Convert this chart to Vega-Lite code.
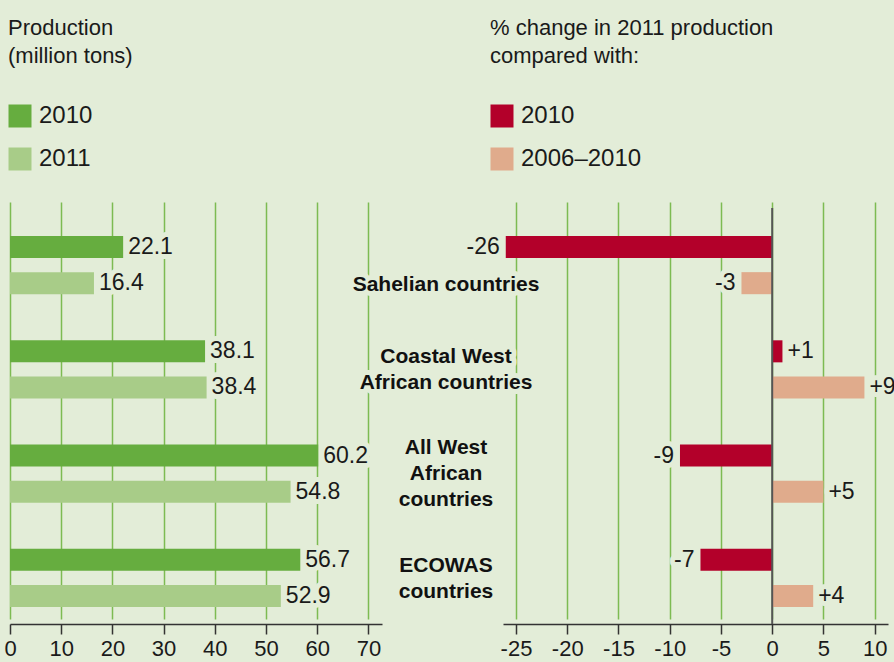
{
  "$schema": "https://vega.github.io/schema/vega-lite/v6.json",
  "background": "#e3edd8",
  "autosize": {"type": "none"},
  "padding": {"left": 10, "top": 208, "right": 884, "bottom": 38},
  "bounds": "flush",
  "spacing": 121,
  "datasets": {
    "production": [
      {"group": "Sahelian countries", "year": "2010", "value": 22.1},
      {"group": "Sahelian countries", "year": "2011", "value": 16.4},
      {"group": "Coastal West African countries", "year": "2010", "value": 38.1},
      {"group": "Coastal West African countries", "year": "2011", "value": 38.4},
      {"group": "All West African countries", "year": "2010", "value": 60.2},
      {"group": "All West African countries", "year": "2011", "value": 54.8},
      {"group": "ECOWAS countries", "year": "2010", "value": 56.7},
      {"group": "ECOWAS countries", "year": "2011", "value": 52.9}
    ],
    "change": [
      {"group": "Sahelian countries", "comparison": "2010", "value": -26},
      {"group": "Sahelian countries", "comparison": "2006–2010", "value": -3},
      {"group": "Coastal West African countries", "comparison": "2010", "value": 1},
      {"group": "Coastal West African countries", "comparison": "2006–2010", "value": 9},
      {"group": "All West African countries", "comparison": "2010", "value": -9},
      {"group": "All West African countries", "comparison": "2006–2010", "value": 5},
      {"group": "ECOWAS countries", "comparison": "2010", "value": -7},
      {"group": "ECOWAS countries", "comparison": "2006–2010", "value": 4}
    ],
    "labels": [
      {"group": "Sahelian countries", "label": "Sahelian countries", "lines": 1},
      {"group": "Coastal West African countries", "label": "Coastal West\nAfrican countries", "lines": 2},
      {"group": "All West African countries", "label": "All West\nAfrican\ncountries", "lines": 3},
      {"group": "ECOWAS countries", "label": "ECOWAS\ncountries", "lines": 2}
    ]
  },
  "hconcat": [
    {
      "width": 372,
      "height": 416,
      "data": {"name": "production"},
      "encoding": {
        "y": {"field": "group", "type": "nominal", "scale": {"domain": ["Sahelian countries", "Coastal West African countries", "All West African countries", "ECOWAS countries"], "range": [5, 422], "paddingInner": 0, "paddingOuter": 0}, "axis": null},
        "yOffset": {"field": "year", "type": "nominal", "scale": {"domain": ["2010", "2011"], "paddingInner": 0.389, "paddingOuter": 0.639}},
        "x": {"field": "value", "type": "quantitative", "scale": {"domain": [0, 72.66], "nice": false}, "axis": {"values": [0, 10, 20, 30, 40, 50, 60, 70], "grid": true, "title": null}}
      },
      "layer": [
        {
          "mark": {"type": "text", "align": "left", "baseline": "middle", "dx": 5, "fontSize": 23, "fill": "#e3edd8", "stroke": "#e3edd8", "strokeWidth": 10, "strokeJoin": "round"},
          "encoding": {"text": {"field": "value", "type": "quantitative", "format": ".1f"}}
        },
        {
          "mark": {"type": "bar"},
          "encoding": {
            "color": {
              "field": "year", "type": "nominal",
              "scale": {"domain": ["2010", "2011"], "range": ["#66ad3f", "#a8cc88"]},
              "legend": {"orient": "none", "legendX": -2, "legendY": -190, "title": ["Production", "(million tons)"]}
            }
          }
        },
        {
          "mark": {"type": "text", "align": "left", "baseline": "middle", "dx": 5, "fontSize": 23, "color": "#1a1a1a"},
          "encoding": {"text": {"field": "value", "type": "quantitative", "format": ".1f"}}
        }
      ]
    },
    {
      "width": 385,
      "height": 416,
      "layer": [
        {
          "data": {"name": "labels"},
          "transform": [{"filter": "datum.lines === 1"}],
          "encoding": {
            "y": {"field": "group", "type": "nominal", "scale": {"domain": ["Sahelian countries", "Coastal West African countries", "All West African countries", "ECOWAS countries"], "range": [5, 422], "paddingInner": 0, "paddingOuter": 0}, "axis": null},
            "x": {"datum": -31.83, "type": "quantitative", "scale": {"domain": [-26.27, 11.3], "nice": false}, "axis": {"values": [-25, -20, -15, -10, -5, 0, 5, 10], "grid": true, "title": null}},
            "text": {"field": "label"}
          },
          "layer": [
            {"mark": {"type": "text", "align": "center", "baseline": "middle", "dy": 20, "fontSize": 21, "fontWeight": "bold", "fill": "#e3edd8", "stroke": "#e3edd8", "strokeWidth": 10, "strokeJoin": "round"}},
            {"mark": {"type": "text", "align": "center", "baseline": "middle", "dy": 20, "fontSize": 21, "fontWeight": "bold", "color": "#111111"}}
          ]
        },
        {
          "data": {"name": "labels"},
          "transform": [{"filter": "datum.lines === 2"}],
          "encoding": {
            "y": {"field": "group", "type": "nominal"},
            "x": {"datum": -31.83, "type": "quantitative"},
            "text": {"field": "label"}
          },
          "layer": [
            {"mark": {"type": "text", "align": "center", "baseline": "middle", "dy": -12, "fontSize": 21, "fontWeight": "bold", "lineBreak": "\n", "lineHeight": 26, "fill": "#e3edd8", "stroke": "#e3edd8", "strokeWidth": 10, "strokeJoin": "round"}},
            {"mark": {"type": "text", "align": "center", "baseline": "middle", "dy": -12, "fontSize": 21, "fontWeight": "bold", "lineBreak": "\n", "lineHeight": 26, "color": "#111111"}}
          ]
        },
        {
          "data": {"name": "labels"},
          "transform": [{"filter": "datum.lines === 3"}],
          "encoding": {
            "y": {"field": "group", "type": "nominal"},
            "x": {"datum": -31.83, "type": "quantitative"},
            "text": {"field": "label"}
          },
          "layer": [
            {"mark": {"type": "text", "align": "center", "baseline": "middle", "dy": -26, "fontSize": 21, "fontWeight": "bold", "lineBreak": "\n", "lineHeight": 26, "fill": "#e3edd8", "stroke": "#e3edd8", "strokeWidth": 10, "strokeJoin": "round"}},
            {"mark": {"type": "text", "align": "center", "baseline": "middle", "dy": -26, "fontSize": 21, "fontWeight": "bold", "lineBreak": "\n", "lineHeight": 26, "color": "#111111"}}
          ]
        },
        {
          "data": {"name": "change"},
          "encoding": {
            "y": {"field": "group", "type": "nominal"},
            "yOffset": {"field": "comparison", "type": "nominal", "scale": {"domain": ["2010", "2006–2010"], "paddingInner": 0.389, "paddingOuter": 0.639}},
            "x": {"field": "value", "type": "quantitative"}
          },
          "layer": [
            {
              "transform": [{"filter": "datum.value >= 0"}],
              "mark": {"type": "text", "align": "left", "baseline": "middle", "dx": 5, "fontSize": 23, "fill": "#e3edd8", "stroke": "#e3edd8", "strokeWidth": 10, "strokeJoin": "round"},
              "encoding": {"text": {"field": "value", "type": "quantitative", "format": "+d"}}
            },
            {
              "transform": [{"filter": "datum.value < 0"}],
              "mark": {"type": "text", "align": "right", "baseline": "middle", "dx": -6, "fontSize": 23, "fill": "#e3edd8", "stroke": "#e3edd8", "strokeWidth": 10, "strokeJoin": "round"},
              "encoding": {"text": {"field": "value", "type": "quantitative", "format": "+d"}}
            },
            {
              "mark": {"type": "bar"},
              "encoding": {
                "color": {
                  "field": "comparison", "type": "nominal",
                  "scale": {"domain": ["2010", "2006–2010"], "range": ["#b3002a", "#e0ab8c"]},
                  "legend": {"orient": "none", "legendX": -13, "legendY": -190, "title": ["% change in 2011 production", "compared with:"]}
                }
              }
            },
            {
              "transform": [{"filter": "datum.value >= 0"}],
              "mark": {"type": "text", "align": "left", "baseline": "middle", "dx": 5, "fontSize": 23, "color": "#1a1a1a"},
              "encoding": {"text": {"field": "value", "type": "quantitative", "format": "+d"}}
            },
            {
              "transform": [{"filter": "datum.value < 0"}],
              "mark": {"type": "text", "align": "right", "baseline": "middle", "dx": -6, "fontSize": 23, "color": "#1a1a1a"},
              "encoding": {"text": {"field": "value", "type": "quantitative", "format": "+d"}}
            }
          ]
        },
        {
          "data": {"values": [{}]},
          "mark": {"type": "rule", "color": "#555555", "strokeWidth": 2},
          "encoding": {"x": {"datum": 0, "type": "quantitative"}}
        }
      ]
    }
  ],
  "resolve": {"scale": {"color": "independent", "yOffset": "independent", "x": "independent", "y": "independent"}, "legend": {"color": "independent"}},
  "config": {
    "view": {"stroke": null},
    "font": "Liberation Sans",
    "text": {"font": "Liberation Sans"},
    "scale": {"bandWithNestedOffsetPaddingInner": 0, "bandWithNestedOffsetPaddingOuter": 0, "offsetBandPaddingInner": 0.389, "offsetBandPaddingOuter": 0.639},
    "axis": {
      "domainColor": "#333333", "domainWidth": 1.5,
      "tickColor": "#333333", "tickWidth": 1.5, "tickSize": 10,
      "labelFont": "Liberation Sans", "labelFontSize": 22, "labelColor": "#1a1a1a", "labelPadding": 4,
      "labelFlush": false, "labelOverlap": false,
      "gridColor": "#7dbb52", "gridWidth": 1.5
    },
    "legend": {
      "padding": 0,
      "symbolType": "square", "symbolSize": 529, "symbolStrokeWidth": 0, "symbolOpacity": 1,
      "labelFont": "Liberation Sans", "labelFontSize": 24, "labelColor": "#1a1a1a", "labelOffset": 7,
      "titleFont": "Liberation Sans", "titleFontSize": 22, "titleFontWeight": "normal", "titleColor": "#1a1a1a", "titleLineHeight": 28,
      "titlePadding": 36, "rowPadding": 19, "titleLimit": 500, "labelLimit": 300
    },
    "locale": {"number": {"decimal": ".", "thousands": ",", "grouping": [3], "currency": ["$", ""], "minus": "-"}}
  }
}
